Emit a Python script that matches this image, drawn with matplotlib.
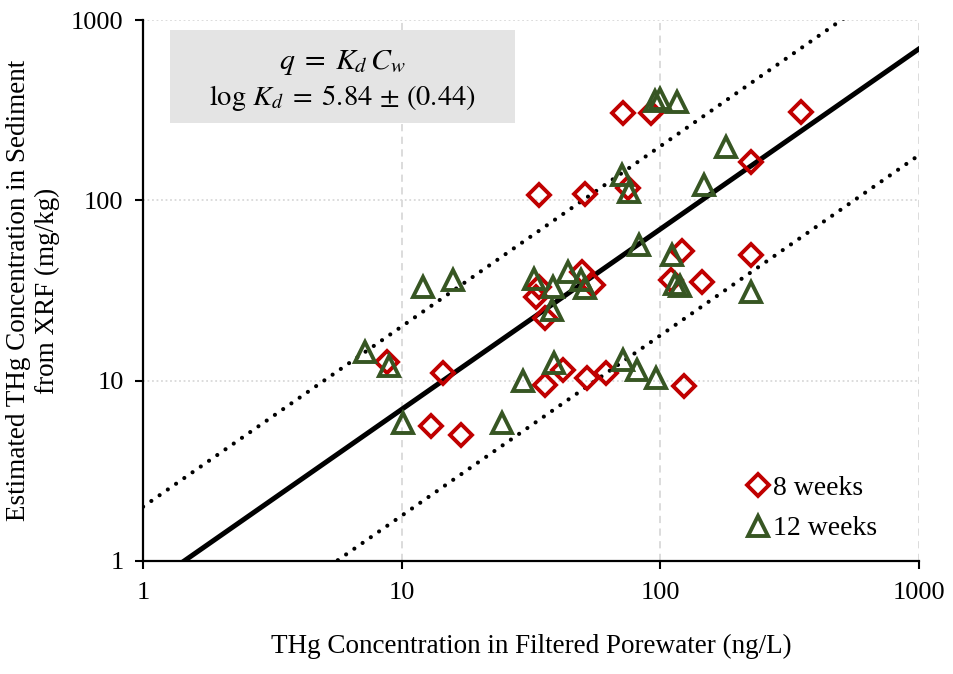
import numpy as np
import matplotlib
matplotlib.use("Agg")
import matplotlib.pyplot as plt
from matplotlib.patches import Rectangle

#  data (ng/L, mg/kg)
w8_x = [72, 92, 349, 34, 51, 75, 225, 121, 225, 110, 145, 50, 55, 33, 34, 36,
        8.8, 14.5, 36, 42, 52, 62, 124, 13, 17]
w8_y = [304, 304, 310, 107, 108, 117, 164, 52.6, 49.8, 36, 35.4, 40, 34, 29, 33, 22.2,
        12.7, 11.0, 9.5, 11.5, 10.3, 11.0, 9.3, 5.6, 5.0]

w12_x = [95.5, 100, 116, 180, 148, 71, 76, 83, 111, 114, 119, 225, 12.1, 15.8,
         32.5, 38.4, 44, 49.6, 51, 38, 7.2, 8.9, 10.1, 24.4, 29.4, 38.9, 71.5, 81, 96.2]
w12_y = [355, 365, 352, 199, 122, 138, 112, 56.6, 49.8, 34.5, 33.5, 31.2, 33.2, 36.2,
         36.5, 33.2, 40, 36, 32.5, 24.7, 14.5, 12.0, 5.8, 5.8, 9.9, 12.5, 13.0, 11.5, 10.3]

log_kd = 5.84
log_kd_upper = 6.30
log_kd_lower = 5.25

ticks = [1, 10, 100, 1000]
tick_labels = ["1", "10", "100", "1000"]

#  plot settings
plt.rcParams["font.family"] = ["Liberation Serif", "DejaVu Serif"]
plt.rcParams["mathtext.fontset"] = "stix"

fig = plt.figure(figsize=(9.54, 6.74), dpi=100)
ax = fig.add_axes([0.150, 0.168, 0.813, 0.802])

cw = np.array([1.0, 1000.0])
ax.plot(cw, 10 ** (log_kd - 6) * cw, color="black", lw=3.6, zorder=2)
for lk in (log_kd_upper, log_kd_lower):
    ax.plot(cw, 10 ** (lk - 6) * cw, color="black", lw=3.0,
            linestyle=(0, (0.01, 2.4)), dash_capstyle="round", zorder=2)

ax.plot(w8_x, w8_y, linestyle="none", marker="D", ms=11, mew=2.8,
        mfc="none", mec="#c00000", label="8 weeks", zorder=3)
ax.plot(w12_x, w12_y, linestyle="none", marker="^", ms=15, mew=2.8,
        mfc="none", mec="#375623", label="12 weeks", zorder=4)

ax.set_xscale("log")
ax.set_yscale("log")
ax.set_xlim(1, 1000)
ax.set_ylim(1, 1000)
ax.xaxis.set_minor_locator(matplotlib.ticker.NullLocator())
ax.yaxis.set_minor_locator(matplotlib.ticker.NullLocator())
ax.set_xticks(ticks, tick_labels)
ax.set_yticks(ticks, tick_labels)
ax.tick_params(direction="out", length=6, width=1.5, labelsize=19)
ax.tick_params(axis="x", pad=9)
ax.tick_params(axis="y", pad=8)

ax.grid(False)
for t in ticks[1:]:
    ax.axvline(t, color="#d9d9d9", lw=1.3, linestyle=(0, (4, 3)), zorder=0)
    ax.axhline(t, color="#d9d9d9", lw=1.3, linestyle=(0, (1, 1.5)), zorder=0)

for s in ("top", "right"):
    ax.spines[s].set_visible(False)
for s in ("left", "bottom"):
    ax.spines[s].set_linewidth(1.6)

ax.set_xlabel("THg Concentration in Filtered Porewater (ng/L)", fontsize=19.5, labelpad=22)
ax.set_ylabel("Estimated THg Concentration in Sediment\nfrom XRF (mg/kg)", fontsize=19.5,
              labelpad=8)

#  equation box
ax.add_patch(Rectangle((0.035, 0.81), 0.444, 0.172, transform=ax.transAxes,
                       facecolor="#e4e4e4", edgecolor="none", zorder=1))
ax.text(0.2565, 0.922, r"$q\;=\;K_d\,C_w$", transform=ax.transAxes,
        ha="center", va="center", fontsize=21.5, zorder=5)
ax.text(0.2565, 0.857, r"$\log\,K_d\;=\;5.84\,\pm\,(0.44)$", transform=ax.transAxes,
        ha="center", va="center", fontsize=20.5, zorder=5)

ax.legend(loc="lower right", bbox_to_anchor=(0.975, -0.005), frameon=False,
          fontsize=20, handlelength=0.8, handletextpad=0.15, labelspacing=0.55,
          borderpad=0.3)

fig.savefig("out.png", dpi=100)
